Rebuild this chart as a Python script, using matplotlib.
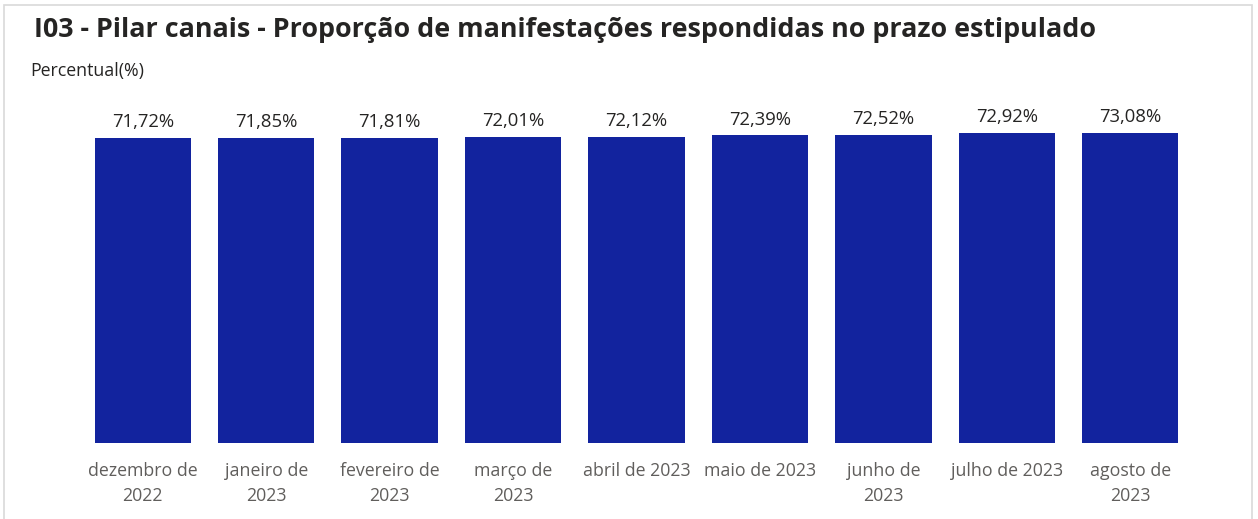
import matplotlib.pyplot as plt
from matplotlib.patches import Rectangle

plt.rcParams['font.family'] = ['Open Sans', 'DejaVu Sans']

meses = ['dezembro de\n2022', 'janeiro de\n2023', 'fevereiro de\n2023', 'março de\n2023',
         'abril de 2023', 'maio de 2023', 'junho de\n2023', 'julho de 2023', 'agosto de\n2023']
percentual = [71.72, 71.85, 71.81, 72.01, 72.12, 72.39, 72.52, 72.92, 73.08]

fig = plt.figure(figsize=(12.58, 5.19), dpi=100)

# moldura do visual
fig.patches.append(Rectangle((4 / 1258, -0.05), 1248 / 1258, 1.04, transform=fig.transFigure,
                             facecolor='white', edgecolor='#d9d9d9', linewidth=1.2, zorder=-1))

ax = fig.add_axes([81 / 1258, 76 / 519, 1111 / 1258, 311 / 519])
x = range(len(meses))
bars = ax.bar(x, percentual, width=0.78, color='#12239E')
ax.set_xlim(-0.5, len(meses) - 0.5)
ax.set_ylim(0, 73.2)

for xi, v in zip(x, percentual):
    ax.text(xi, v + 1.6, f'{v:.2f}%'.replace('.', ','), ha='center', va='bottom',
            fontsize=13.3, color='#252423', clip_on=False)

ax.set_xticks(list(x))
ax.set_xticklabels(meses, fontsize=12.8, color='#605E5C', linespacing=1.5)
ax.tick_params(axis='x', length=0, pad=13.5)
ax.set_yticks([])
for s in ax.spines.values():
    s.set_visible(False)
ax.patch.set_alpha(0)

fig.text(34 / 1258, 1 - 30 / 519, 'I03 - Pilar canais - Proporção de manifestações respondidas no prazo estipulado',
         fontsize=19.4, fontweight='bold', color='#252423', va='center')
fig.text(30 / 1258, 1 - 71 / 519, 'Percentual(%)', fontsize=12.8, color='#252423', va='center')

fig.savefig('out.png', dpi=100)
